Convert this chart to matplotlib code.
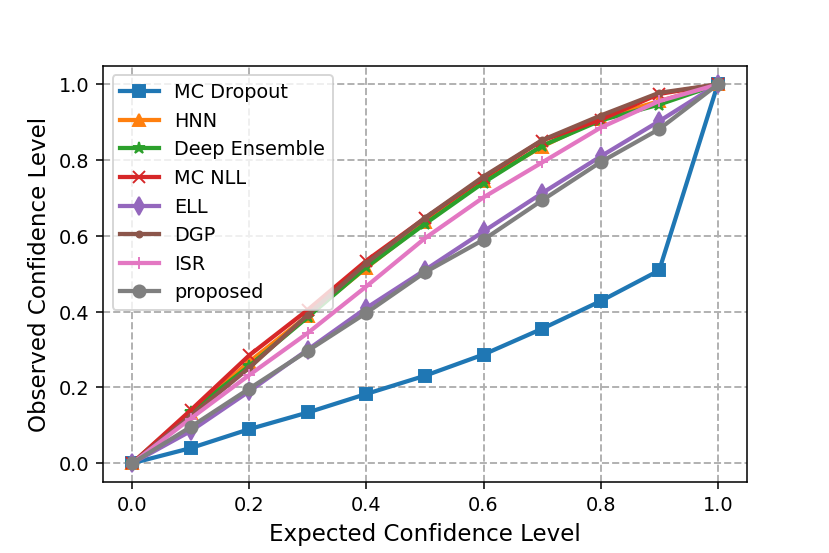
import matplotlib
matplotlib.use("Agg")
import matplotlib.pyplot as plt

expected = [0.0, 0.1, 0.2, 0.3, 0.4, 0.5, 0.6, 0.7, 0.8, 0.9, 1.0]

mc_dropout = [0.0, 0.04, 0.09, 0.134, 0.183, 0.231, 0.287, 0.355, 0.428, 0.509, 1.0]
hnn = [0.0, 0.132, 0.268, 0.39, 0.516, 0.636, 0.746, 0.836, 0.91, 0.956, 1.0]
deep_ensemble = [0.0, 0.136, 0.257, 0.386, 0.518, 0.632, 0.741, 0.838, 0.905, 0.947, 1.0]
mc_nll = [0.0, 0.14, 0.285, 0.405, 0.535, 0.647, 0.754, 0.852, 0.907, 0.975, 1.0]
ell = [0.0, 0.085, 0.19, 0.3, 0.41, 0.51, 0.612, 0.713, 0.81, 0.903, 1.0]
dgp = [0.0, 0.125, 0.252, 0.392, 0.528, 0.648, 0.757, 0.853, 0.918, 0.978, 1.0]
isr = [0.0, 0.118, 0.233, 0.344, 0.467, 0.594, 0.702, 0.794, 0.886, 0.956, 1.0]
proposed = [0.0, 0.096, 0.197, 0.297, 0.397, 0.504, 0.59, 0.694, 0.795, 0.882, 1.0]

series = [
    ("MC Dropout", mc_dropout, "s"),
    ("HNN", hnn, "^"),
    ("Deep Ensemble", deep_ensemble, "*"),
    ("MC NLL", mc_nll, "x"),
    ("ELL", ell, "d"),
    ("DGP", dgp, "."),
    ("ISR", isr, "+"),
    ("proposed", proposed, "o"),
]

fig = plt.figure(figsize=(6, 4), dpi=138.33)
ax = fig.add_axes([0.124, 0.128, 0.776, 0.753])

for name, vals, m in series:
    ax.plot(expected, vals, marker=m, linewidth=2.2, markersize=6.3, label=name)

ax.grid(True, linestyle="--", color="#b0b0b0", linewidth=1)
ax.set_xlabel("Expected Confidence Level", fontsize=12)
ax.set_ylabel("Observed Confidence Level", fontsize=12)
ax.legend(loc="upper left", fontsize=10)

fig.savefig("out.png", dpi=138.33)
